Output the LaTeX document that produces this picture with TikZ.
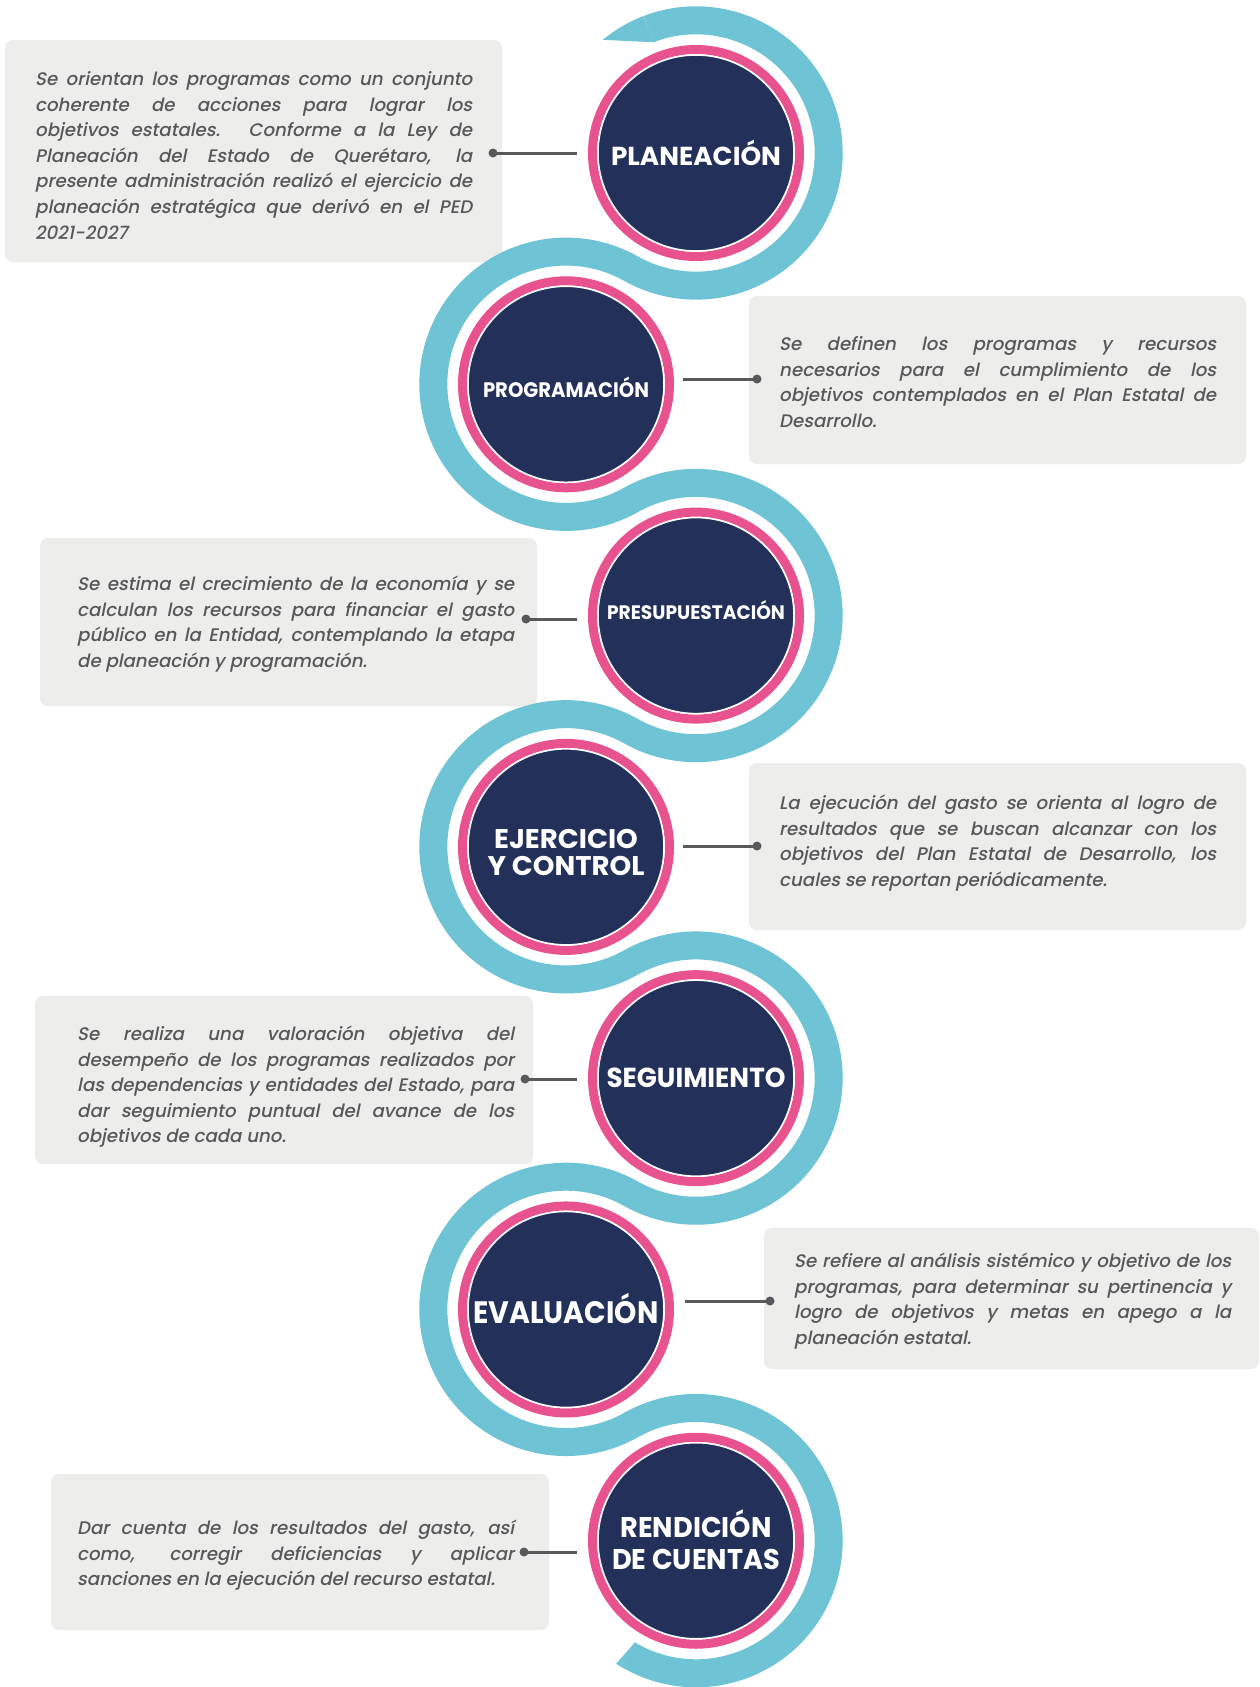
\documentclass[tikz,border=0pt]{standalone}
\usepackage{fontspec}
\setmainfont{Poppins}
\IfFontExistsTF{Poppins Medium}{\newfontfamily\descfont{Poppins Medium}[FakeSlant=0.2]}{\newfontfamily\descfont{Poppins}[FakeSlant=0.2,FakeBold=0.6]}
\usetikzlibrary{calc}
\definecolor{navyc}{HTML}{22305A}
\definecolor{pinkc}{HTML}{E8528E}
\definecolor{tealc}{HTML}{6EC3D4}
\definecolor{boxg}{HTML}{EDEDEB}
\definecolor{txtg}{HTML}{58585A}
\definecolor{connc}{HTML}{58595B}
\newcommand\nohyph{\hyphenpenalty=10000\relax\exhyphenpenalty=10000\relax}
\tikzset{
  stage/.style={circle, fill=navyc, draw=white, line width=1.5pt, minimum size=196pt, inner sep=0pt, outer sep=0pt},
  ring/.style={draw=pinkc, line width=9pt},
  band/.style={draw=tealc, line width=28pt},
  panel/.style={fill=boxg, rounded corners=8pt, anchor=north west, inner sep=0pt, outer sep=0pt},
  desc/.style={anchor=base west, text width=437pt, align=justify, inner sep=0pt, text=txtg,
    font=\fontsize{18.2}{25.6}\selectfont\descfont\nohyph},
  ttl/.style={inner sep=0pt, text=white, font=\bfseries},
  conn/.style={draw=connc, line width=3pt},
  dot/.style={fill=connc},
}
\begin{document}
\begin{tikzpicture}[x=1pt,y=1pt]
\fill[white] (0,0) rectangle (1260,-1687);
\useasboundingbox (0,0) rectangle (1260,-1687);
% centres
\coordinate (c1) at (696,-153);
\coordinate (c2) at (566,-384.29);
\coordinate (c3) at (696,-615.58);
\coordinate (c4) at (566,-846.87);
\coordinate (c5) at (696,-1078.16);
\coordinate (c6) at (566,-1309.45);
\coordinate (c7) at (696,-1540.74);
% panels
\node[panel, minimum width=497pt, minimum height=222pt] (b1) at (5,-40) {};
\node[panel, minimum width=497pt, minimum height=168pt] (b2) at (749,-296) {};
\node[panel, minimum width=497pt, minimum height=168pt] (b3) at (40,-538) {};
\node[panel, minimum width=497pt, minimum height=167pt] (b4) at (749,-763) {};
\node[panel, minimum width=498pt, minimum height=168pt] (b5) at (35,-996) {};
\node[panel, minimum width=495pt, minimum height=141pt] (b6) at (764,-1228) {};
\node[panel, minimum width=498pt, minimum height=156pt] (b7) at (51,-1474) {};
% teal band
\draw[band] ($(c1)+(111:132.66)$)
  arc[start angle=111, end angle=-119.34, radius=132.66]
  arc[start angle=60.66, end angle=299.34, radius=132.66]
  arc[start angle=119.34, end angle=-119.34, radius=132.66]
  arc[start angle=60.66, end angle=299.34, radius=132.66]
  arc[start angle=119.34, end angle=-119.34, radius=132.66]
  arc[start angle=60.66, end angle=299.34, radius=132.66]
  arc[start angle=119.34, end angle=-121, radius=132.66];
\fill[tealc] ($(c1)+(111:146.66)$) arc[start angle=111, end angle=129.5, radius=146.66]
  -- ($(c1)+(111:118.66)$) -- cycle;
\fill[tealc] ($(c7)+(-121:146.66)$) arc[start angle=-121, end angle=-123, radius=146.66]
  -- ($(c7)+(-121:118.66)$) -- cycle;
% rings and circles
\foreach \c in {c1,c2,c3,c4,c5,c6,c7}{\draw[ring] (\c) circle[radius=103.5];}
\node[stage] (n1) at (c1) {};
\node[stage] (n2) at (c2) {};
\node[stage] (n3) at (c3) {};
\node[stage] (n4) at (c4) {};
\node[stage] (n5) at (c5) {};
\node[stage] (n6) at (c6) {};
\node[stage] (n7) at (c7) {};
% titles
\node[ttl, anchor=base] (l1) at ($(n1.center)+(0,-12.2)$) {\fontsize{26}{26}\selectfont\resizebox{170pt}{\height}{PLANEACIÓN}};
\node[ttl, anchor=base] (l2) at ($(n2.center)+(0,-13.3)$) {\fontsize{21}{21}\selectfont\resizebox{166pt}{\height}{PROGRAMACIÓN}};
\node[ttl, anchor=base] (l3) at ($(n3.center)+(0,-3.8)$) {\fontsize{19.5}{19.5}\selectfont\resizebox{178pt}{\height}{PRESUPUESTACIÓN}};
\node[ttl] (l4) at ($(n4.center)+(0,-9.3)$) {\fontsize{27}{26}\selectfont\resizebox{157pt}{\height}{\begin{tabular}{@{}c@{}}EJERCICIO\\Y CONTROL\end{tabular}}};
\node[ttl, anchor=base] (l5) at ($(n5.center)+(0,-9.7)$) {\fontsize{27.5}{27.5}\selectfont\resizebox{179pt}{\height}{SEGUIMIENTO}};
\node[ttl, anchor=base] (l6) at ($(n6.center)+(0,-13.9)$) {\fontsize{31}{31}\selectfont\resizebox{185pt}{\height}{EVALUACIÓN}};
\node[ttl] (l7) at ($(n7.center)+(0,-3.9)$) {\fontsize{28.5}{32}\selectfont\resizebox{168pt}{\height}{\begin{tabular}{@{}c@{}}RENDICIÓN\\DE CUENTAS\end{tabular}}};
% connectors
\coordinate (s1) at (577,-153);  \coordinate (d1) at (493,-153);
\coordinate (s2) at (683,-379);  \coordinate (d2) at (757,-379);
\coordinate (s3) at (577,-619);  \coordinate (d3) at (526,-619);
\coordinate (s4) at (683,-846);  \coordinate (d4) at (757,-846);
\coordinate (s5) at (577,-1079); \coordinate (d5) at (525,-1079);
\coordinate (s6) at (685,-1301); \coordinate (d6) at (770,-1301);
\coordinate (s7) at (577,-1552); \coordinate (d7) at (524,-1552);
\foreach \i in {1,...,7}{\draw[conn] (s\i) -- (d\i); \fill[dot] (d\i) circle[radius=4.5];}
% descriptions
\node[desc] (t1) at (35,-85.5) {Se orientan los programas como un conjunto\linebreak coherente de acciones para lograr los\linebreak objetivos estatales. Conforme a la Ley de\linebreak Planeación del Estado de Querétaro, la\linebreak presente administración realizó el ejercicio de\linebreak planeación estratégica que derivó en el PED\linebreak 2021-2027};
\node[desc] (t2) at (779,-350.5) {Se definen los programas y recursos\linebreak necesarios para el cumplimiento de los\linebreak objetivos contemplados en el Plan Estatal de\linebreak Desarrollo.};
\node[desc] (t3) at (77,-590.5) {Se estima el crecimiento de la economía y se\linebreak calculan los recursos para financiar el gasto\linebreak público en la Entidad, contemplando la etapa\linebreak de planeación y programación.};
\node[desc] (t4) at (779,-809.5) {La ejecución del gasto se orienta al logro de\linebreak resultados que se buscan alcanzar con los\linebreak objetivos del Plan Estatal de Desarrollo, los\linebreak cuales se reportan periódicamente.};
\node[desc] (t5) at (77,-1040.5) {Se realiza una valoración objetiva del\linebreak desempeño de los programas realizados por\linebreak las dependencias y entidades del Estado, para\linebreak dar seguimiento puntual del avance de los\linebreak objetivos de cada uno.};
\node[desc] (t6) at (794,-1267.5) {Se refiere al análisis sistémico y objetivo de los\linebreak programas, para determinar su pertinencia y\linebreak logro de objetivos y metas en apego a la\linebreak planeación estatal.};
\node[desc] (t7) at (77,-1534.5) {Dar cuenta de los resultados del gasto, así\linebreak como, corregir deficiencias y aplicar\linebreak sanciones en la ejecución del recurso estatal.};
\end{tikzpicture}
\end{document}
